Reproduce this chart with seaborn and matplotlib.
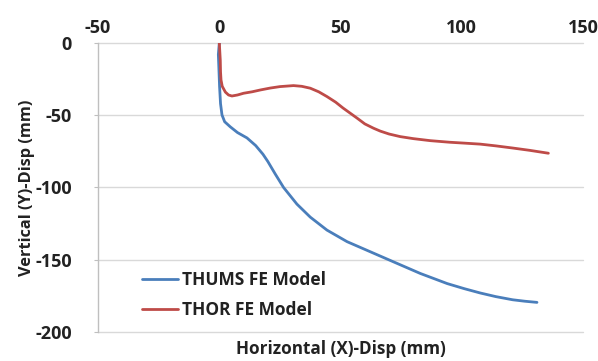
import matplotlib
matplotlib.use("Agg")
import matplotlib.pyplot as plt
import seaborn as sns
import pandas as pd

thums_x = [0, -0.4, -0.2, 0.1, 0.5, 1.1, 2.2, 4.5, 7.5, 11.4, 15, 18, 20, 23, 26.5, 32, 37.5, 44.4, 52.7, 62.3, 71.9, 82.9, 94, 101, 107.6, 114, 121, 126, 131]
thums_y = [0, -8, -16.6, -30, -42, -49.8, -54.5, -58, -62, -65.7, -71, -77, -82, -90.5, -100, -111.5, -120.5, -129.5, -137.5, -144.5, -151.5, -159.5, -166.5, -170, -173, -175.5, -177.7, -178.7, -179.5]

thor_x = [0, 0.4, 0.5, 0.7, 1.2, 2.5, 3.8, 5.2, 7.5, 10, 13.5, 17, 21, 25, 30.6, 34, 37.5, 41, 44.4, 48, 51, 56.8, 60, 63.6, 66.4, 70, 74.6, 80, 87, 95, 101, 107.6, 114, 121, 128, 135.7]
thor_y = [0, -12, -20, -25.6, -30, -34, -36, -36.7, -36, -34.8, -33.8, -32.5, -31.2, -30.2, -29.5, -30, -31.3, -33.8, -37.1, -41, -45, -52, -56, -59, -61, -63, -64.8, -66.2, -67.6, -68.7, -69.3, -70, -71.2, -72.7, -74.3, -76.3]

series_names = ["THUMS FE Model", "THOR FE Model"]
x_ticks = [-50, 0, 50, 100, 150]
y_ticks = [0, -50, -100, -150, -200]

df = pd.concat([
    pd.DataFrame({"x": thums_x, "y": thums_y, "model": series_names[0]}),
    pd.DataFrame({"x": thor_x, "y": thor_y, "model": series_names[1]}),
], ignore_index=True)

sns.set_style("white")
plt.rcParams['font.family'] = ['Open Sans', 'DejaVu Sans']
plt.rcParams['axes.unicode_minus'] = False

fig = plt.figure(figsize=(5.98, 3.61), dpi=100)
ax = fig.add_axes([0.164, 0.0803, 0.811, 0.8007])

for yv in y_ticks:
    ax.axhline(yv, color="#D9D9D9", linewidth=1.0, zorder=0, clip_on=False)

sns.lineplot(data=df, x="x", y="y", hue="model", sort=False, estimator=None,
             palette={series_names[0]: "#4A7EBB", series_names[1]: "#BE4B48"},
             linewidth=2.0, ax=ax)
for ln in ax.get_lines():
    ln.set_solid_joinstyle("round")
    ln.set_solid_capstyle("round")

ax.set_xlim(-50, 150)
ax.set_ylim(-200, 0)
ax.set_xticks(x_ticks)
ax.set_yticks(y_ticks)
ax.xaxis.tick_top()
ax.xaxis.set_label_position("bottom")
ax.grid(False)
for s in ["top", "right", "bottom"]:
    ax.spines[s].set_visible(False)
ax.spines["left"].set_color("#BFBFBF")
ax.spines["left"].set_linewidth(1.0)
ax.tick_params(axis="x", length=0, pad=4, labelsize=13, labelcolor="#222222")
ax.tick_params(axis="y", length=3, color="#BFBFBF", pad=16, labelsize=13, labelcolor="#222222", left=True)
for lbl in ax.get_xticklabels() + ax.get_yticklabels():
    lbl.set_fontweight("bold")

ax.set_xlabel("Horizontal (X)-Disp (mm)", fontsize=12.3, fontweight="bold", color="#222222", labelpad=6)
ax.set_ylabel("Vertical (Y)-Disp (mm)", fontsize=11.8, fontweight="bold", color="#222222", labelpad=0)

leg = ax.legend(loc="lower left", bbox_to_anchor=(0.058, -0.01), frameon=False,
                prop={"size": 12.5, "weight": "bold"}, handlelength=2.1,
                handletextpad=0.2, labelspacing=0.72)
for t in leg.get_texts():
    t.set_color("#222222")

fig.savefig("out.png", dpi=100)
